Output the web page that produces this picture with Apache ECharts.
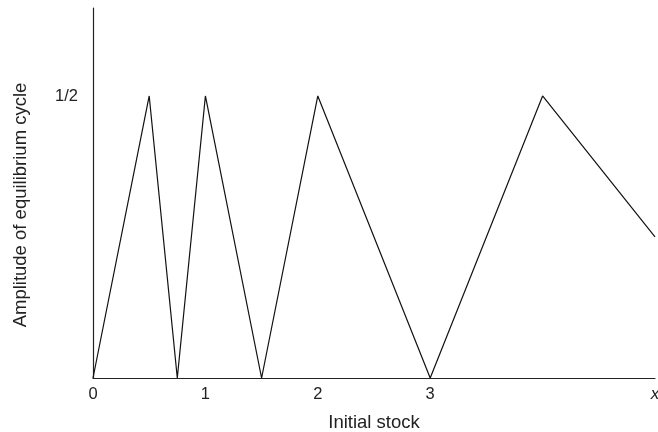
<!DOCTYPE html>
<html>
<head>
<meta charset="utf-8">
<script src="https://cdn.jsdelivr.net/npm/echarts@6/dist/echarts.min.js"></script>
<style>
html,body{margin:0;padding:0;background:#fff;}
#chart{width:658px;height:432px;}
</style>
</head>
<body>
<div id="chart"></div>
<script>
var xValues = [0, 0.5, 0.75, 1, 1.5, 2, 3, 4, 5];
var amplitude = [0, 0.5, 0, 0.5, 0, 0.5, 0, 0.5, 0.25];
var xTickLabels = {0: '0', 1: '1', 2: '2', 3: '3', 5: '{i|x}'};
var yTickLabels = {0.5: '1/2'};

var points = xValues.map(function (x, i) { return [x, amplitude[i]]; });

var chart = echarts.init(document.getElementById('chart'));
var font = 'Liberation Sans, Arial, Helvetica, sans-serif';
chart.setOption({
  animation: false,
  grid: { left: 93, right: 3, top: 8, bottom: 54, containLabel: false, outerBoundsMode: 'none' },
  xAxis: {
    type: 'value', min: 0, max: 5, interval: 1,
    name: 'Initial stock', nameLocation: 'middle', nameGap: 35,
    nameTextStyle: { color: '#222', fontSize: 18.5, fontFamily: font },
    axisLine: { show: true, onZero: false, lineStyle: { color: '#222', width: 1.2 } },
    axisTick: { show: false },
    splitLine: { show: false },
    axisLabel: {
      show: true, margin: 8, color: '#222', fontSize: 16.5, fontFamily: font,
      showMinLabel: true, showMaxLabel: true, hideOverlap: false,
      formatter: function (v) { return xTickLabels[v] !== undefined ? xTickLabels[v] : ''; },
      rich: { i: { fontStyle: 'italic', fontSize: 17, color: '#222', fontFamily: font } }
    }
  },
  yAxis: {
    type: 'value', min: 0, max: 0.656, interval: 0.5,
    name: 'Amplitude of equilibrium cycle', nameLocation: 'middle', nameGap: 63,
    nameTextStyle: { color: '#222', fontSize: 18.5, fontFamily: font, padding: [0, 24, 0, 0] },
    axisLine: { show: true, lineStyle: { color: '#222', width: 1.2 } },
    axisTick: { show: false },
    splitLine: { show: false },
    axisLabel: {
      show: true, margin: 15, color: '#222', fontSize: 16.5, fontFamily: font,
      formatter: function (v) { return yTickLabels[v] !== undefined ? yTickLabels[v] : ''; }
    }
  },
  series: [{
    type: 'line', data: points, symbol: 'none', clip: false,
    lineStyle: { color: '#111', width: 1.2 }
  }]
});
</script>
</body>
</html>
